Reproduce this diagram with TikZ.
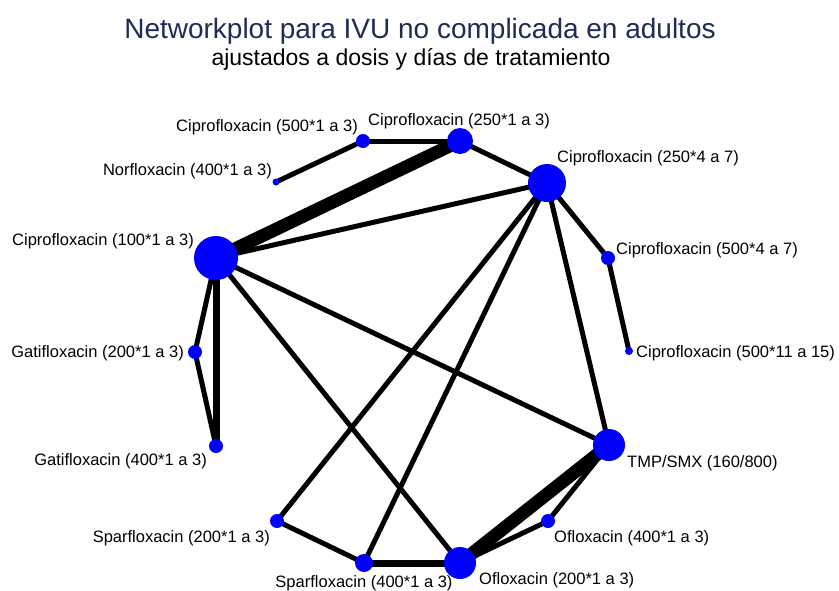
\documentclass[tikz,border=0pt]{standalone}
\usepackage{fontspec}
\setmainfont{Liberation Sans}
\definecolor{titlenavy}{RGB}{30,44,86}
\definecolor{nodeblue}{RGB}{0,0,255}
\begin{document}
\begin{tikzpicture}[x=1pt,y=-1pt,
  trt/.style={circle,fill=nodeblue,draw=none,inner sep=0pt,minimum size=#1},
  lbl/.style={inner sep=0pt,font=\fontsize{16.5}{18}\selectfont},
  edge/.style={line width=5pt,black},
  thinedge/.style={line width=5pt,black},
  midedge/.style={line width=7pt,black},
  heavyedge/.style={line width=13pt,black}]
\useasboundingbox (0,0) rectangle (839,590);
\fill[white] (0,0) rectangle (839,590);

% titles
\node[inner sep=0pt,text=titlenavy,font=\fontsize{28}{32}\selectfont] (title) at (420,31) {Networkplot para IVU no complicada en adultos};
\node[inner sep=0pt,font=\fontsize{23}{26}\selectfont] (subtitle) at (411,59) {ajustados a dosis y días de tratamiento};

% treatment positions
\coordinate (c250a) at (460,141);
\coordinate (c500a) at (363,141);
\coordinate (nor)   at (276,182);
\coordinate (c250b) at (547,183);
\coordinate (c100)  at (216,258);
\coordinate (c500b) at (608,258);
\coordinate (c500c) at (629,351);
\coordinate (gat2)  at (195,352);
\coordinate (gat4)  at (216,446);
\coordinate (tmp)   at (609,445);
\coordinate (spa2)  at (277,521);
\coordinate (ofl4)  at (548,521);
\coordinate (spa4)  at (364,563);
\coordinate (ofl2)  at (460,563);

% comparisons
\draw[heavyedge] (c100) -- (c250a);
\draw[heavyedge] (ofl2) -- (tmp);
\draw[edge] (c500a) -- (c250a);
\draw[edge] (nor) -- (c500a);
\draw[edge] (c250a) -- (c250b);
\draw[edge] (c100) -- (c250b);
\draw[edge] (c250b) -- (c500b);
\draw[edge] (c500b) -- (c500c);
\draw[edge] (c250b) -- (tmp);
\draw[edge] (c250b) -- (spa2);
\draw[edge] (c250b) -- (spa4);
\draw[edge] (c100) -- (gat2);
\draw[midedge] (c100) -- (gat4);
\draw[edge] (gat2) -- (gat4);
\draw[edge] (c100) -- (tmp);
\draw[edge] (c100) -- (ofl2);
\draw[edge] (spa2) -- (spa4);
\draw[midedge] (spa4) -- (ofl2);
\draw[edge] (ofl2) -- (ofl4);
\draw[edge] (ofl4) -- (tmp);

% treatment nodes
\node[trt=26pt] (n250a) at (c250a) {};
\node[trt=14pt] (n500a) at (c500a) {};
\node[trt=7pt]  (nnor)  at (nor) {};
\node[trt=38pt] (n250b) at (c250b) {};
\node[trt=44pt] (n100)  at (c100) {};
\node[trt=14pt] (n500b) at (c500b) {};
\node[trt=8pt]  (n500c) at (c500c) {};
\node[trt=14pt] (ngat2) at (gat2) {};
\node[trt=14pt] (ngat4) at (gat4) {};
\node[trt=32pt] (ntmp)  at (tmp) {};
\node[trt=14pt] (nspa2) at (spa2) {};
\node[trt=14pt] (nofl4) at (ofl4) {};
\node[trt=18pt] (nspa4) at (spa4) {};
\node[trt=32pt] (nofl2) at (ofl2) {};

% treatment labels
\node[lbl,anchor=east] (l500a) at (358,127) {Ciprofloxacin (500*1 a 3)};
\node[lbl,anchor=west] (l250a) at (368,121) {Ciprofloxacin (250*1 a 3)};
\node[lbl,anchor=east] (lnor)  at (272,171) {Norfloxacin (400*1 a 3)};
\node[lbl,anchor=west] (l250b) at (557,158) {Ciprofloxacin (250*4 a 7)};
\node[lbl,anchor=east] (l100)  at (194,241) {Ciprofloxacin (100*1 a 3)};
\node[lbl,anchor=west] (l500b) at (616,250) {Ciprofloxacin (500*4 a 7)};
\node[lbl,anchor=west] (l500c) at (636,353) {Ciprofloxacin (500*11 a 15)};
\node[lbl,anchor=east] (lgat2) at (184,353) {Gatifloxacin (200*1 a 3)};
\node[lbl,anchor=east] (lgat4) at (207,461) {Gatifloxacin (400*1 a 3)};
\node[lbl,anchor=west] (ltmp)  at (627,463) {TMP/SMX (160/800)};
\node[lbl,anchor=east] (lspa2) at (270,538) {Sparfloxacin (200*1 a 3)};
\node[lbl,anchor=west] (lofl4) at (554,538) {Ofloxacin (400*1 a 3)};
\node[lbl] (lspa4) at (364,583) {Sparfloxacin (400*1 a 3)};
\node[lbl,anchor=west] (lofl2) at (479,580) {Ofloxacin (200*1 a 3)};
\end{tikzpicture}
\end{document}
